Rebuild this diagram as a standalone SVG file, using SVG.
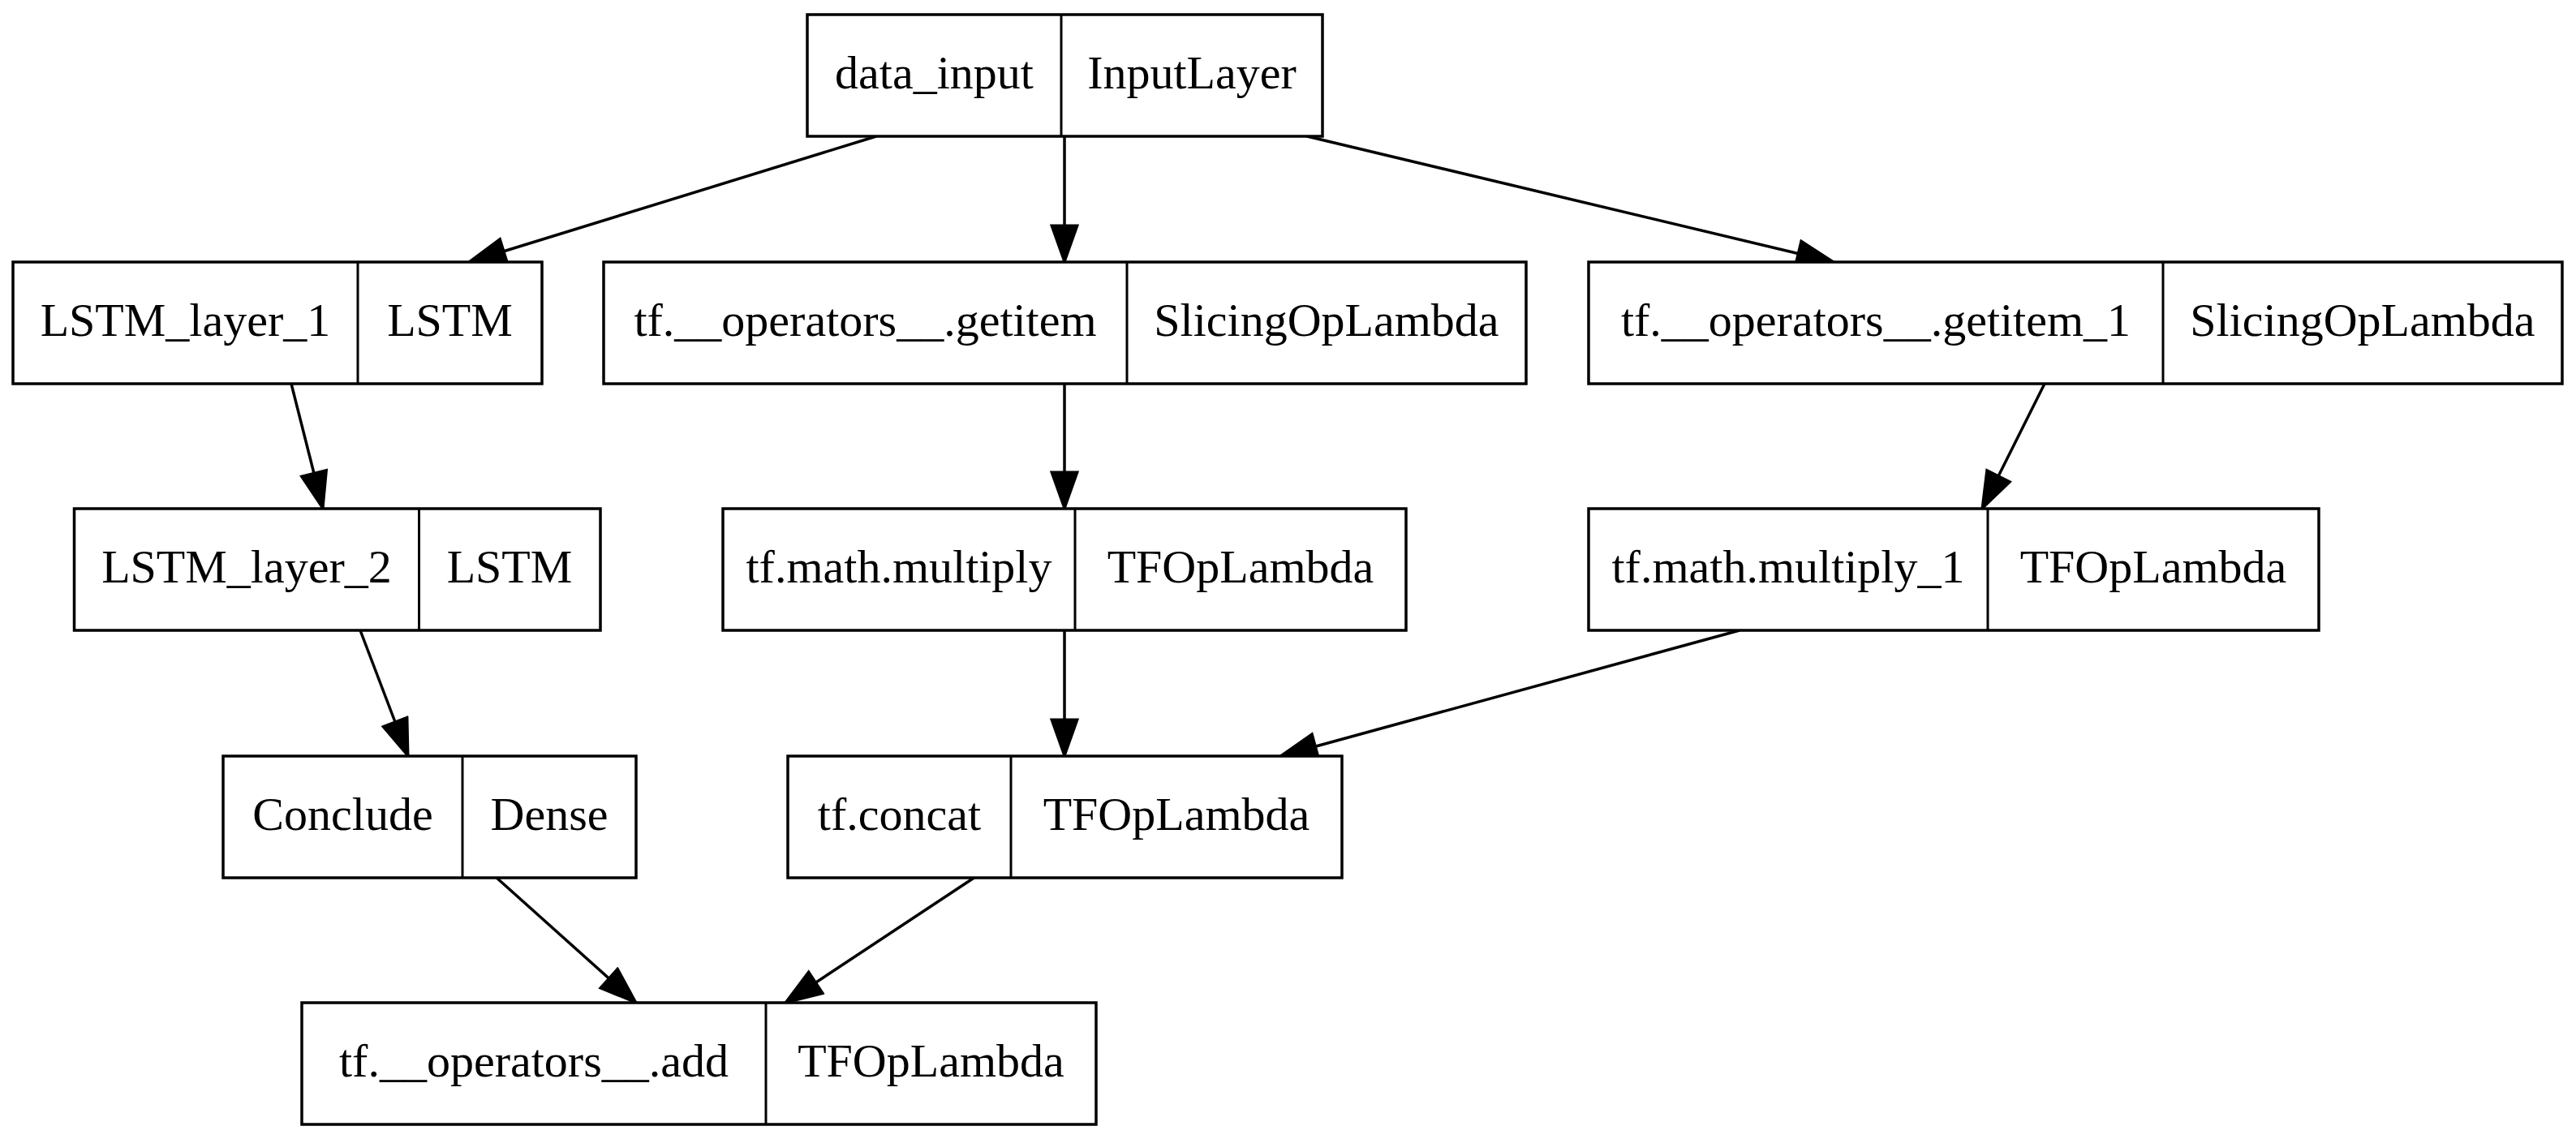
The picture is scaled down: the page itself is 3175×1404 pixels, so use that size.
<svg xmlns="http://www.w3.org/2000/svg" width="3175" height="1404" viewBox="0 0 3175 1404">
<style>
.box{fill:#fff;stroke:#000;stroke-width:3.5}
.div{stroke:#000;stroke-width:3}
.t{font-family:"Liberation Serif","Times New Roman",serif;font-size:58px;text-anchor:middle;fill:#000}
.e{stroke:#000;stroke-width:3.5;fill:none;marker-end:url(#ah)}
</style>
<defs>
<marker id="ah" markerUnits="userSpaceOnUse" markerWidth="50" markerHeight="38" viewBox="-2 -2 50 38" refX="45" refY="16" orient="auto">
<path d="M0,0 L45,16 L0,32 Z" fill="#000" stroke="#000" stroke-width="3"/>
</marker>
</defs>
<rect width="3175" height="1404" fill="#fff"/>
<g id="edges">
<line class="e" x1="1080" y1="168" x2="578" y2="323"/>
<line class="e" x1="1312" y1="168" x2="1312" y2="323"/>
<line class="e" x1="1611" y1="168" x2="2260" y2="323"/>
<line class="e" x1="359" y1="473" x2="398" y2="627"/>
<line class="e" x1="1312" y1="473" x2="1312" y2="627"/>
<line class="e" x1="2520" y1="473" x2="2443" y2="627"/>
<line class="e" x1="444" y1="777" x2="503" y2="932"/>
<line class="e" x1="1312" y1="777" x2="1312" y2="932"/>
<line class="e" x1="2144" y1="777" x2="1578" y2="932"/>
<line class="e" x1="611" y1="1081" x2="784" y2="1236"/>
<line class="e" x1="1202" y1="1081" x2="968" y2="1236"/>
</g>
<g id="data_input">
<rect class="box" x="995" y="18" width="635" height="150"/>
<line class="div" x1="1308" y1="18" x2="1308" y2="168"/>
<text class="t" x="1151.5" y="109">data_input</text>
<text class="t" x="1469" y="109">InputLayer</text>
</g>
<g id="LSTM_layer_1">
<rect class="box" x="16" y="323" width="652" height="150"/>
<line class="div" x1="441" y1="323" x2="441" y2="473"/>
<text class="t" x="228.5" y="414">LSTM_layer_1</text>
<text class="t" x="554.5" y="414">LSTM</text>
</g>
<g id="getitem">
<rect class="box" x="744" y="323" width="1137" height="150"/>
<line class="div" x1="1389" y1="323" x2="1389" y2="473"/>
<text class="t" x="1066.5" y="414">tf.__operators__.getitem</text>
<text class="t" x="1635" y="414">SlicingOpLambda</text>
</g>
<g id="getitem_1">
<rect class="box" x="1958" y="323" width="1200" height="150"/>
<line class="div" x1="2666" y1="323" x2="2666" y2="473"/>
<text class="t" x="2312" y="414">tf.__operators__.getitem_1</text>
<text class="t" x="2912" y="414">SlicingOpLambda</text>
</g>
<g id="LSTM_layer_2">
<rect class="box" x="91.5" y="627" width="648.5" height="150"/>
<line class="div" x1="516.5" y1="627" x2="516.5" y2="777"/>
<text class="t" x="304" y="718">LSTM_layer_2</text>
<text class="t" x="628" y="718">LSTM</text>
</g>
<g id="multiply">
<rect class="box" x="891" y="627" width="842" height="150"/>
<line class="div" x1="1325" y1="627" x2="1325" y2="777"/>
<text class="t" x="1108" y="718">tf.math.multiply</text>
<text class="t" x="1529" y="718">TFOpLambda</text>
</g>
<g id="multiply_1">
<rect class="box" x="1958" y="627" width="900" height="150"/>
<line class="div" x1="2450" y1="627" x2="2450" y2="777"/>
<text class="t" x="2204" y="718">tf.math.multiply_1</text>
<text class="t" x="2654" y="718">TFOpLambda</text>
</g>
<g id="Conclude">
<rect class="box" x="275" y="932" width="509" height="150"/>
<line class="div" x1="570" y1="932" x2="570" y2="1082"/>
<text class="t" x="422.5" y="1023">Conclude</text>
<text class="t" x="677" y="1023">Dense</text>
</g>
<g id="concat">
<rect class="box" x="971" y="932" width="683" height="150"/>
<line class="div" x1="1246" y1="932" x2="1246" y2="1082"/>
<text class="t" x="1108.5" y="1023">tf.concat</text>
<text class="t" x="1450" y="1023">TFOpLambda</text>
</g>
<g id="add">
<rect class="box" x="372" y="1236" width="979" height="150"/>
<line class="div" x1="944" y1="1236" x2="944" y2="1386"/>
<text class="t" x="658" y="1327">tf.__operators__.add</text>
<text class="t" x="1147.5" y="1327">TFOpLambda</text>
</g>
</svg>
